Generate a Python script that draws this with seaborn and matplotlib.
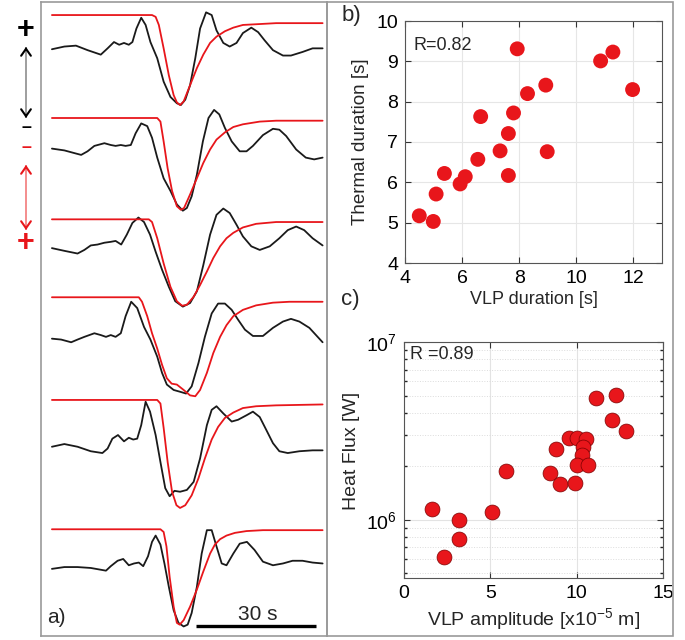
import numpy as np
import pandas as pd
import seaborn as sns
import matplotlib.pyplot as plt
from matplotlib.patches import Rectangle, FancyArrowPatch
from matplotlib.ticker import LogLocator, NullFormatter

# ---- panel a: VLP waveforms (black) and thermal signals (red), time [s] / normalised amplitude ----
t_b1 = [0.0, 3.1, 6.0, 8.9, 12.2, 13.9, 15.5, 16.8, 18.0, 19.2, 20.1, 21.1, 22.3, 23.4, 24.6, 26.3, 27.9, 29.6, 31.2, 32.2,
        33.3, 34.5, 35.8, 37.0, 38.5, 39.9, 41.1, 42.8, 44.4, 46.1, 47.7, 49.8, 51.5, 53.1, 55.2, 57.7, 59.7, 62.6, 65.1, 67.6]
a_b1 = [-0.38, -0.35, -0.34, -0.39, -0.44, -0.37, -0.30, -0.33, -0.31, -0.33, -0.30, -0.15, -0.03, -0.11, -0.30, -0.48,
        -0.74, -0.91, -0.98, -1.00, -0.94, -0.78, -0.48, -0.15, 0.03, 0.00, -0.17, -0.31, -0.35, -0.31, -0.20, -0.14, -0.19,
        -0.28, -0.39, -0.45, -0.45, -0.41, -0.37, -0.37]
t_r1 = [0.0, 25.0, 25.9, 26.7, 27.9, 29.2, 30.4, 31.2, 32.0, 32.9, 34.5, 36.2, 37.8, 39.5, 41.1, 43.2, 45.3, 47.7, 51.9, 56.0, 67.6]
a_r1 = [0.0, 0.0, -0.02, -0.11, -0.37, -0.67, -0.89, -0.97, -1.00, -0.96, -0.78, -0.59, -0.44, -0.31, -0.24, -0.18, -0.14,
        -0.11, -0.10, -0.09, -0.09]

t_b2 = [0.0, 3.1, 5.6, 7.3, 8.9, 10.6, 13.1, 14.7, 15.9, 17.2, 18.4, 19.7, 20.9, 22.3, 23.8, 25.0, 26.3, 27.9, 29.6, 31.2,
        32.7, 33.7, 34.9, 36.2, 37.7, 39.1, 40.5, 41.8, 43.2, 44.9, 46.9, 48.6, 50.2, 52.7, 55.2, 56.8, 58.5, 61.0, 63.4, 65.5, 67.6]
a_b2 = [-0.34, -0.36, -0.39, -0.41, -0.37, -0.31, -0.28, -0.30, -0.31, -0.30, -0.31, -0.30, -0.17, -0.06, -0.09, -0.22,
        -0.44, -0.67, -0.81, -0.96, -1.03, -1.00, -0.87, -0.63, -0.26, 0.00, 0.09, 0.04, -0.11, -0.26, -0.37, -0.37, -0.31,
        -0.19, -0.12, -0.13, -0.20, -0.35, -0.44, -0.46, -0.44]
t_r2 = [0.0, 26.3, 27.1, 27.9, 28.9, 30.0, 31.2, 32.2, 33.0, 34.5, 36.2, 37.8, 39.5, 41.1, 43.2, 45.3, 47.7, 51.9, 56.0, 67.6]
a_r2 = [0.0, 0.0, -0.04, -0.26, -0.56, -0.81, -0.98, -1.02, -1.00, -0.85, -0.67, -0.50, -0.35, -0.24, -0.16, -0.10, -0.07,
        -0.04, -0.03, -0.03]

t_b3 = [0.0, 3.1, 6.4, 8.1, 9.7, 11.4, 13.1, 14.7, 15.9, 17.3, 18.7, 20.1, 21.6, 23.0, 24.5, 25.9, 27.5, 29.2, 30.8, 32.7,
        34.5, 36.2, 37.8, 39.5, 41.1, 42.8, 44.4, 46.1, 47.7, 49.8, 51.9, 54.4, 56.8, 58.9, 61.0, 63.0, 65.1, 67.6]
a_b3 = [-0.32, -0.35, -0.38, -0.34, -0.29, -0.28, -0.26, -0.25, -0.24, -0.28, -0.17, -0.04, 0.02, -0.03, -0.17, -0.36,
        -0.56, -0.75, -0.91, -0.97, -0.93, -0.80, -0.51, -0.17, 0.05, 0.12, 0.07, -0.06, -0.19, -0.30, -0.34, -0.30, -0.21,
        -0.12, -0.08, -0.12, -0.21, -0.29]
t_r3 = [0.0, 24.2, 25.0, 26.3, 27.9, 29.6, 31.2, 32.5, 33.7, 35.4, 37.0, 38.7, 40.3, 42.0, 43.6, 45.3, 47.7, 51.0, 56.0, 61.0, 67.6]
a_r3 = [0.0, 0.0, -0.03, -0.21, -0.49, -0.75, -0.91, -0.96, -0.95, -0.86, -0.73, -0.58, -0.43, -0.30, -0.21, -0.15, -0.09,
        -0.05, -0.03, -0.03, -0.03]

t_b4 = [0.0, 2.3, 4.8, 6.4, 8.1, 10.6, 12.2, 13.5, 14.7, 15.9, 17.2, 18.4, 19.8, 21.3, 23.0, 24.6, 26.3, 27.5, 28.7, 30.4,
        32.0, 33.5, 34.9, 36.6, 38.2, 39.9, 41.5, 43.2, 44.9, 46.5, 48.2, 50.2, 52.7, 55.2, 57.7, 59.7, 61.8, 64.3, 67.6]
a_b4 = [-0.46, -0.47, -0.50, -0.47, -0.44, -0.40, -0.42, -0.44, -0.42, -0.44, -0.40, -0.21, -0.05, -0.12, -0.33, -0.47,
        -0.66, -0.84, -0.97, -1.03, -1.05, -1.07, -0.99, -0.73, -0.44, -0.18, -0.07, -0.07, -0.14, -0.25, -0.36, -0.43,
        -0.43, -0.34, -0.27, -0.24, -0.27, -0.34, -0.50]
t_r4 = [0.0, 21.7, 22.5, 23.8, 25.0, 26.3, 27.5, 28.7, 29.9, 31.2, 32.9, 34.5, 35.8, 37.0, 38.7, 40.3, 42.0, 43.6, 45.3,
        47.7, 51.0, 55.2, 59.3, 67.6]
a_r4 = [0.0, 0.0, -0.05, -0.21, -0.40, -0.57, -0.75, -0.90, -0.96, -0.97, -1.03, -1.09, -1.10, -1.03, -0.84, -0.62, -0.44,
        -0.31, -0.21, -0.14, -0.09, -0.06, -0.05, -0.05]

t_b5 = [0.0, 3.1, 6.4, 9.7, 12.6, 13.9, 15.1, 16.5, 18.0, 19.2, 20.3, 21.3, 22.3, 23.4, 24.5, 25.9, 27.1, 28.3, 29.4, 30.6,
        32.0, 33.7, 35.4, 37.0, 38.7, 39.9, 41.1, 42.8, 44.9, 46.5, 48.6, 50.2, 51.9, 53.5, 55.2, 56.8, 58.9, 61.8, 65.1, 67.6]
a_b5 = [-0.52, -0.49, -0.52, -0.57, -0.59, -0.54, -0.43, -0.39, -0.46, -0.42, -0.44, -0.43, -0.28, -0.02, -0.13, -0.39,
        -0.69, -0.98, -1.07, -1.01, -1.02, -1.00, -0.91, -0.65, -0.28, -0.11, -0.07, -0.15, -0.24, -0.22, -0.17, -0.13,
        -0.19, -0.33, -0.48, -0.57, -0.59, -0.57, -0.56, -0.56]
t_r5 = [0.0, 26.3, 27.1, 27.9, 28.9, 30.0, 31.1, 32.0, 33.3, 34.9, 36.6, 38.2, 39.9, 41.5, 43.2, 45.3, 47.7, 51.0, 56.0, 67.6]
a_r5 = [0.0, 0.0, -0.04, -0.31, -0.69, -1.02, -1.17, -1.20, -1.17, -1.06, -0.87, -0.65, -0.44, -0.30, -0.20, -0.14, -0.09,
        -0.07, -0.06, -0.05]

t_b6 = [0.0, 3.1, 6.4, 9.7, 13.5, 14.7, 16.4, 17.8, 19.2, 20.5, 21.7, 22.8, 24.0, 25.0, 25.9, 27.1, 28.1, 29.2, 30.4, 31.6,
        32.9, 33.9, 34.9, 36.2, 37.4, 38.7, 39.9, 41.1, 42.4, 43.6, 45.3, 46.9, 48.7, 50.6, 52.7, 55.2, 57.7, 60.1, 62.6, 65.1, 67.6]
a_b6 = [-0.44, -0.42, -0.42, -0.43, -0.46, -0.41, -0.35, -0.33, -0.40, -0.38, -0.37, -0.41, -0.30, -0.14, -0.07, -0.17,
        -0.38, -0.64, -0.90, -1.04, -1.08, -1.06, -0.93, -0.64, -0.27, -0.01, -0.01, -0.19, -0.38, -0.40, -0.27, -0.16,
        -0.14, -0.23, -0.36, -0.40, -0.38, -0.35, -0.35, -0.37, -0.38]
t_r6 = [0.0, 27.1, 27.9, 28.6, 29.4, 30.4, 31.2, 31.9, 32.9, 34.5, 36.2, 37.8, 39.5, 40.7, 42.0, 43.6, 45.7, 48.6, 52.7, 67.6]
a_r6 = [0.0, 0.0, -0.03, -0.19, -0.53, -0.86, -1.04, -1.06, -1.01, -0.86, -0.67, -0.47, -0.27, -0.17, -0.11, -0.07, -0.04,
        -0.02, -0.01, -0.01]

# ---- panel b ----
vlp_duration = [4.50, 4.99, 5.09, 5.38, 5.93, 6.11, 6.55, 6.65, 7.33, 7.62, 7.62, 7.80, 7.93, 8.29, 8.93, 8.98, 10.85, 11.28, 11.97]
thermal_duration = [5.17, 5.03, 5.71, 6.22, 5.96, 6.14, 6.57, 7.63, 6.78, 6.17, 7.21, 7.72, 9.31, 8.20, 8.41, 6.76, 9.01, 9.23, 8.30]

# ---- panel c ----
vlp_amplitude = [1.60, 3.20, 3.20, 2.31, 5.09, 5.90, 8.48, 9.02, 8.82, 9.56, 9.88, 10.04, 10.56, 10.37, 10.31, 10.02,
                 10.66, 11.10, 12.04, 12.29, 12.83]
heat_flux = [1.15e6, 1.00e6, 7.8e5, 6.15e5, 1.11e6, 1.89e6, 1.84e6, 1.59e6, 2.50e6, 2.87e6, 1.61e6, 2.87e6, 2.83e6,
             2.58e6, 2.31e6, 2.03e6, 2.02e6, 4.81e6, 3.64e6, 5.02e6, 3.16e6]

sns.set_theme(style="white")
plt.rcParams['font.family'] = ['Liberation Sans', 'DejaVu Sans']
plt.rcParams['mathtext.fontset'] = 'custom'
plt.rcParams['mathtext.rm'] = 'Liberation Sans'
plt.rcParams['mathtext.it'] = 'Liberation Sans:italic'

W, H = 685, 640
fig = plt.figure(figsize=(W / 100, H / 100), dpi=100)
frame = '#9a9a9a'
red = '#e8161b'

# panel a
axa = fig.add_axes([41 / W, 1 - 636 / H, 286 / W, 634 / H])
traces = [(t_b1, a_b1, t_r1, a_r1), (t_b2, a_b2, t_r2, a_r2), (t_b3, a_b3, t_r3, a_r3),
          (t_b4, a_b4, t_r4, a_r4), (t_b5, a_b5, t_r5, a_r5), (t_b6, a_b6, t_r6, a_r6)]
offsets = [-0.167, -1.311, -2.437, -3.303, -4.444, -5.881]
for (tb, ab, tr, ar), off in zip(traces, offsets):
    sns.lineplot(x=np.array(tb), y=np.array(ab) + off, ax=axa, color='#1a1a1a', lw=1.3, estimator=None, sort=False)
    sns.lineplot(x=np.array(tr), y=np.array(ar) + off, ax=axa, color=red, lw=1.3, estimator=None, sort=False)
axa.plot([36.0, 66.0], [-6.96, -6.96], color='black', lw=2.4, solid_capstyle='butt')
axa.text(51.5, -6.89, '30 s', ha='center', va='baseline', fontsize=15)
axa.text(-1.2, -6.97, 'a)', ha='left', va='bottom', fontsize=15)
axa.set_xlim(-2.73, 68.7)
axa.set_ylim(-7.067, -0.022)
axa.set_xticks([])
axa.set_yticks([])
axa.set_xlabel('')
axa.set_ylabel('')
for s in axa.spines.values():
    s.set_color(frame)
    s.set_linewidth(1.2)

fig.add_artist(Rectangle((327 / W, 4 / H), 346 / W, 634 / H, transform=fig.transFigure,
                         fill=False, ec=frame, lw=1.2))

# polarity arrows on the left
xa = 26 / W
fig.text(xa, 1 - 30 / H, '+', color='black', fontsize=22, fontweight='bold', ha='center', va='center')
fig.text(xa, 1 - 127 / H, '–', color='black', fontsize=13, fontweight='bold', ha='center', va='center')
fig.text(xa, 1 - 147 / H, '–', color=red, fontsize=13, fontweight='bold', ha='center', va='center')
fig.text(xa, 1 - 243 / H, '+', color=red, fontsize=22, fontweight='bold', ha='center', va='center')
for (y0, y1), line_c, head_c in [((47, 118), '#777777', 'black'), ((165, 230), '#f06060', red)]:
    fig.add_artist(FancyArrowPatch((xa, 1 - y0 / H), (xa, 1 - y1 / H), transform=fig.transFigure,
                                   arrowstyle='-', color=line_c, lw=1.0, shrinkA=1, shrinkB=1))
    for ya, yb in [(y0 + 3, y0), (y1 - 3, y1)]:
        fig.add_artist(FancyArrowPatch((xa, 1 - ya / H), (xa, 1 - yb / H), transform=fig.transFigure,
                                       arrowstyle='->,head_length=5,head_width=3.5', color=head_c, lw=1.5,
                                       shrinkA=0, shrinkB=0))


def style(ax):
    ax.tick_params(direction='in', length=4, width=0.8, labelsize=14, colors='#333333', labelcolor='black',
                   bottom=True, left=True, top=True, right=True, pad=5)
    for s in ax.spines.values():
        s.set_color('#555555')
        s.set_linewidth(0.8)


# panel b
axb = fig.add_axes([405 / W, 1 - 263 / H, 257 / W, 242 / H])
sns.scatterplot(x=vlp_duration, y=thermal_duration, ax=axb, color=red, s=115, edgecolor='none', zorder=3)
axb.set_xlim(4, 13)
axb.set_ylim(4, 10)
axb.set_xticks([4, 6, 8, 10, 12])
axb.set_yticks([4, 5, 6, 7, 8, 9, 10])
axb.grid(True, color='#e6e6e6', lw=0.8)
axb.set_axisbelow(True)
style(axb)
axb.set_xlabel('VLP duration [s]', fontsize=13, labelpad=3)
axb.set_ylabel('Thermal duration [s]', fontsize=13.5, labelpad=5)
axb.text(0.035, 0.935, 'R=0.82', transform=axb.transAxes, ha='left', va='top', fontsize=13)

# panel c
axc = fig.add_axes([404 / W, 1 - 578 / H, 259 / W, 236 / H])
sns.scatterplot(x=vlp_amplitude, y=heat_flux, ax=axc, color=red, s=115, edgecolor='#7a0000', linewidth=0.5, zorder=3)
axc.set_yscale('log')
axc.set_xlim(0, 15)
axc.set_ylim(4.7e5, 1e7)
axc.set_xticks([0, 5, 10, 15])
axc.yaxis.set_major_locator(LogLocator(base=10, numticks=5))
axc.yaxis.set_minor_locator(LogLocator(base=10, subs=np.arange(2, 10), numticks=20))
axc.yaxis.set_minor_formatter(NullFormatter())
axc.grid(True, which='major', color='#e3e3e3', lw=0.8)
axc.grid(True, which='minor', axis='y', color='#dcdcdc', lw=0.7, ls=':')
axc.set_axisbelow(True)
style(axc)
axc.tick_params(which='minor', direction='in', length=2, left=True, right=True)
axc.set_xlabel('VLP amplitude [x10$^{-5}$ m]', fontsize=14, labelpad=3)
axc.set_ylabel('Heat Flux [W]', fontsize=14, labelpad=2)
axc.yaxis.set_label_coords(-0.17, 0.54)
axc.text(0.025, 0.985, 'R =0.89', transform=axc.transAxes, ha='left', va='top', fontsize=13)

fig.text(342 / W, 1 - 15 / H, 'b)', fontsize=16, ha='left', va='center')
fig.text(341 / W, 1 - 300 / H, 'c)', fontsize=16, ha='left', va='center')

fig.savefig('out.png', dpi=100)
